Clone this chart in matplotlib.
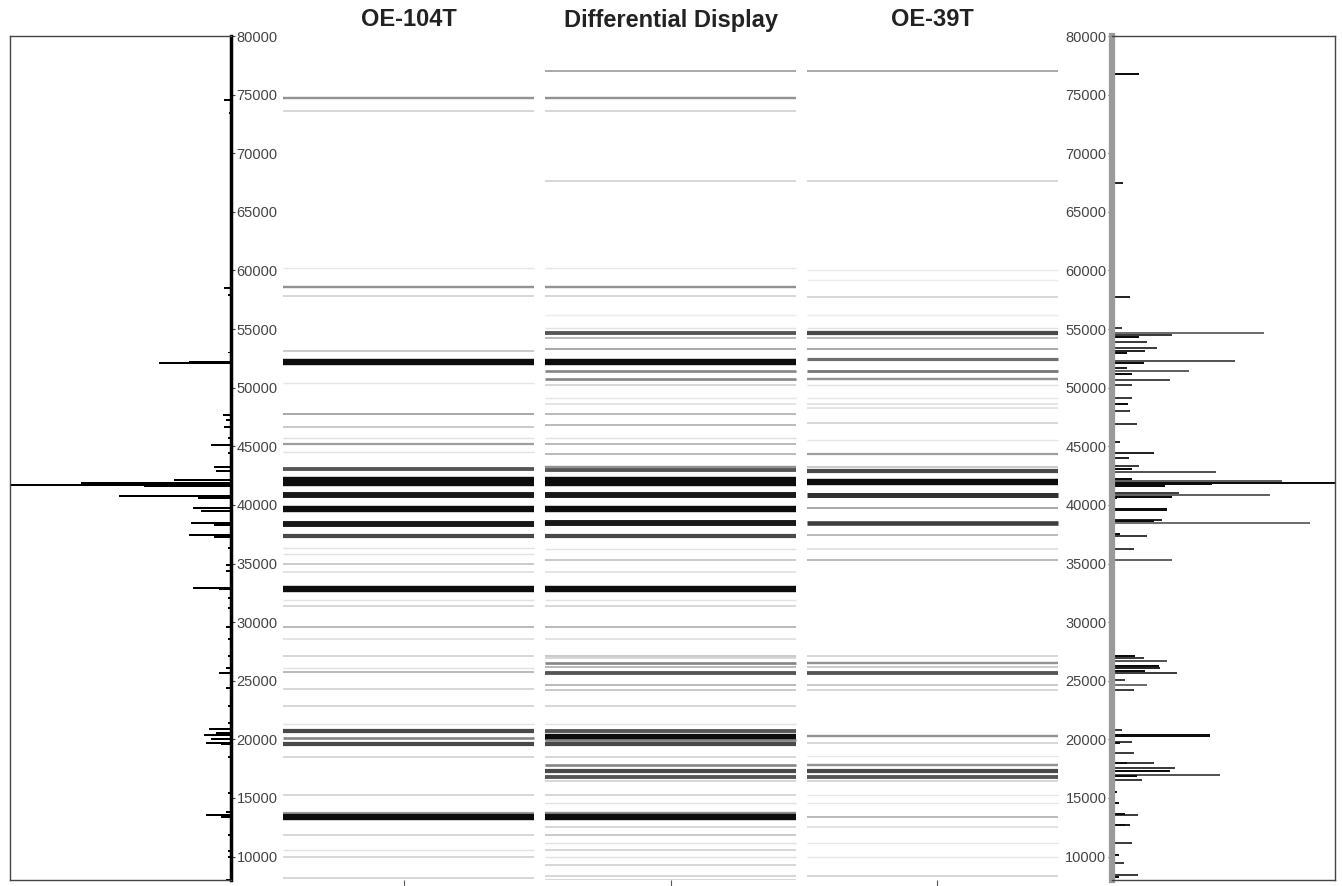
import matplotlib
matplotlib.use('Agg')
import matplotlib.pyplot as plt
import numpy as np

# Band data: position (bp) and intensity (0..1)
lane_names = ['OE-104T', 'Differential Display', 'OE-39T']

oe104_pos = [74713, 73605, 60217, 58597, 57830, 53140, 52202, 50411, 47768, 46659,
             45721, 45210, 44528, 43078, 42100, 41850, 40862, 39667, 38388, 37365,
             36342, 35830, 34977, 34295, 32846, 31908, 31396, 29606, 28582, 27133,
             26110, 25768, 24319, 22869, 21334, 20738, 20140, 19628, 18520, 15280,
             13745, 13403, 11869, 10590, 9993, 8200]
oe104_int = [0.45, 0.2, 0.1, 0.45, 0.2, 0.25, 1.0, 0.1, 0.35, 0.25,
             0.12, 0.4, 0.12, 0.7, 1.0, 1.0, 0.95, 1.0, 0.95, 0.75,
             0.12, 0.12, 0.25, 0.15, 1.0, 0.12, 0.2, 0.3, 0.15, 0.2,
             0.12, 0.3, 0.2, 0.2, 0.12, 0.75, 0.5, 0.75, 0.2, 0.2,
             0.4, 1.0, 0.2, 0.12, 0.2, 0.2]

dd_pos = [77000, 74713, 73605, 67636, 60217, 58597, 57830, 56210, 55101, 54675,
          54248, 53310, 52202, 51435, 50753, 50241, 49132, 48621, 47768, 46830,
          45721, 45210, 44357, 43248, 42993, 42100, 41850, 40862, 39667, 38474,
          37365, 36256, 35318, 34295, 32846, 31908, 31396, 29606, 28582, 27133,
          26900, 26536, 26195, 25683, 24660, 24233, 22869, 21334, 20738, 20226,
          19970, 19628, 18520, 17838, 17326, 16815, 16474, 15280, 14598, 13745,
          13403, 12551, 11869, 11187, 10590, 9993, 9311, 8373, 8032]
dd_int = [0.35, 0.45, 0.2, 0.2, 0.1, 0.45, 0.2, 0.08, 0.12, 0.7,
          0.3, 0.35, 1.0, 0.5, 0.5, 0.2, 0.1, 0.15, 0.3, 0.3,
          0.12, 0.3, 0.3, 0.45, 0.7, 1.0, 1.0, 0.95, 1.0, 0.95,
          0.75, 0.12, 0.25, 0.15, 1.0, 0.12, 0.2, 0.3, 0.15, 0.25,
          0.2, 0.5, 0.3, 0.7, 0.3, 0.25, 0.2, 0.12, 0.7, 1.0,
          0.5, 0.75, 0.2, 0.5, 0.75, 0.7, 0.2, 0.2, 0.12, 0.45,
          1.0, 0.2, 0.25, 0.12, 0.2, 0.12, 0.2, 0.2, 0.2]

oe39_pos = [77000, 67636, 60050, 59194, 57744, 56210, 55101, 54675, 54248, 53310,
            52458, 51435, 50753, 50241, 49132, 48621, 48280, 47000, 45551, 44357,
            43248, 42907, 41970, 40862, 39753, 38474, 37450, 36256, 35318, 27133,
            26536, 26195, 25683, 24660, 24233, 20311, 19714, 18606, 17838, 17326,
            16815, 16474, 15280, 14598, 13403, 12551, 11187, 9993, 8373]
oe39_int = [0.35, 0.2, 0.08, 0.08, 0.2, 0.08, 0.12, 0.75, 0.3, 0.35,
            0.6, 0.55, 0.45, 0.12, 0.1, 0.15, 0.15, 0.2, 0.1, 0.4,
            0.25, 0.75, 1.0, 0.85, 0.35, 0.8, 0.3, 0.15, 0.3, 0.2,
            0.45, 0.25, 0.7, 0.25, 0.2, 0.45, 0.2, 0.1, 0.45, 0.75,
            0.7, 0.2, 0.1, 0.1, 0.3, 0.15, 0.1, 0.1, 0.2]

# Densitometry profiles (peak position, peak height)
left_pos = [74543, 73434, 58512, 57915, 53000, 52117, 52202, 47683, 47256, 46659,
            45721, 45124, 44442, 43248, 42907, 42140, 41884, 41714, 41629, 40776,
            40605, 39753, 39497, 38474, 38303, 37450, 37280, 36342, 34892, 34380,
            32930, 32846, 32078, 31226, 29606, 28582, 27133, 26110, 25683, 24404,
            22869, 21420, 20908, 20567, 20396, 20055, 19714, 19628, 18520, 15450,
            13830, 13574, 13403, 11869, 10505, 9993, 8032]
left_val = [7, 2, 7, 3, 3, 72, 42, 8, 5, 7,
            3, 20, 3, 17, 15, 57, 150, 240, 87, 112,
            33, 38, 30, 40, 17, 42, 17, 3, 5, 5,
            38, 12, 3, 3, 5, 3, 3, 5, 12, 5,
            3, 3, 22, 15, 27, 20, 25, 10, 3, 3,
            5, 25, 10, 3, 3, 3, 5]

right_pos = [76760, 67465, 59876, 58938, 57744, 56210, 55101, 54675, 54504, 54334,
             53907, 53396, 53140, 52969, 52287, 52117, 51690, 51435, 51179, 50667,
             50241, 49132, 48621, 48024, 46915, 45380, 44442, 44016, 43334, 43078,
             42822, 42225, 42000, 41884, 41800, 41629, 41032, 40862, 40691, 40605,
             39667, 39580, 38730, 38650, 38474, 37536, 37365, 36256, 35318, 28838,
             27133, 26962, 26706, 26280, 26110, 25854, 25683, 25512, 25086, 24660,
             24233, 20823, 20396, 20311, 19799, 19714, 18861, 18008, 17950, 17582,
             17326, 16985, 16900, 16559, 15536, 15109, 14598, 13574, 13600, 12721,
             12650, 11187, 10164, 9481, 8458, 8288]
right_val = [27, 11, 2, 2, 18, 2, 10, 152, 60, 27,
             35, 45, 33, 15, 123, 32, 15, 77, 20, 58,
             20, 20, 16, 18, 25, 8, 42, 17, 27, 20,
             104, 20, 170, 300, 100, 53, 67, 158, 60, 5,
             55, 55, 50, 42, 198, 8, 35, 22, 60, 2,
             23, 32, 55, 47, 48, 33, 65, 3, 13, 35,
             22, 10, 98, 98, 20, 8, 22, 42, 15, 63,
             58, 108, 25, 30, 5, 2, 7, 26, 13, 18,
             13, 20, 7, 12, 26, 7]
right_int = [1.0, 0.9, 1, 1, 0.9, 1, 0.8, 0.6, 0.8, 1,
             0.8, 0.8, 0.9, 1, 0.7, 1, 0.9, 0.65, 1, 0.75,
             0.8, 0.8, 1, 0.8, 0.8, 0.9, 0.9, 0.9, 0.8, 1,
             0.7, 1, 0.65, 1, 1, 1, 0.8, 0.65, 1, 1,
             1, 1, 0.9, 1, 0.6, 1, 0.8, 0.8, 0.65, 1,
             1, 0.8, 0.7, 1, 0.9, 1, 0.8, 1, 0.8, 0.6,
             0.8, 0.8, 1, 1, 0.8, 1, 0.8, 0.8, 1, 0.8,
             1, 0.7, 1, 0.8, 1, 1, 1, 0.8, 1, 0.9,
             1, 0.8, 1, 0.8, 0.8, 1]

yticks = np.arange(10000, 80001, 5000)

params = {'font.family': 'Liberation Sans',
          'xtick.labelsize': 9,
          'ytick.labelsize': 10.5,
          'ytick.color': '#444444',
          'xtick.color': '#555555'}
plt.rcParams.update(params)

W, H = 1342, 886
fig = plt.figure(figsize=(W / 100, H / 100), dpi=100)
bot, hgt = (H - 880) / H, 844 / H
ymin, ymax = 8000, 80000

# left profile panel
axl = fig.add_axes([10 / W, bot, 221 / W, hgt])
axl.barh(left_pos, left_val, height=170, color='black', align='center')
axl.set_xlim(221, 0)
axl.set_ylim(ymin, ymax)
axl.yaxis.tick_right()
axl.set_yticks(yticks)
axl.set_xticks([])
axl.tick_params(axis='y', direction='out', length=3, width=0.8, pad=1)
for s in ['left', 'top', 'bottom']:
    axl.spines[s].set_color('#444444')
    axl.spines[s].set_linewidth(1.0)
axl.spines['right'].set_linewidth(2.5)
axl.spines['right'].set_color('black')

# gel lanes
axm = fig.add_axes([278 / W, bot, 785 / W, hgt])
lanes = [(oe104_pos, oe104_int), (dd_pos, dd_int), (oe39_pos, oe39_int)]
for i, (pos, inten) in enumerate(lanes):
    inten = np.array(inten)
    cols = [str(round(1 - 0.95 * v, 3)) for v in inten]
    lws = 1.0 + 3.6 * inten ** 2
    axm.hlines(pos, i + 0.02, i + 0.98, colors=cols, linewidths=lws)
axm.set_xlim(0, 3)
axm.set_ylim(ymin, ymax)
axm.set_xticks([0.48, 1.5, 2.52])
axm.set_xticklabels([])
axm.set_yticks([])
axm.tick_params(axis='x', direction='out', length=4, width=0.8)
for s in axm.spines.values():
    s.set_visible(False)
for i, name in enumerate(lane_names):
    fig.text((278 + (i + 0.5) * 785 / 3) / W, 1 - 20 / H, name, ha='center', va='center',
             fontsize=17, fontweight='bold', color='#222222')

# right profile panel
axr = fig.add_axes([1112 / W, bot, 223 / W, hgt])
rcols = [str(round(1 - v * 0.95, 3)) for v in right_int]
axr.barh(right_pos, right_val, height=170, color=rcols, align='center')
axr.set_xlim(0, 223)
axr.set_ylim(ymin, ymax)
axr.set_yticks(yticks)
axr.set_xticks([])
axr.tick_params(axis='y', direction='out', length=3, width=0.8, pad=1)
for s in ['right', 'top', 'bottom']:
    axr.spines[s].set_color('#444444')
    axr.spines[s].set_linewidth(1.0)
axr.spines['left'].set_linewidth(4.5)
axr.spines['left'].set_color('#9a9a9a')

plt.savefig('out.png', dpi=100)
